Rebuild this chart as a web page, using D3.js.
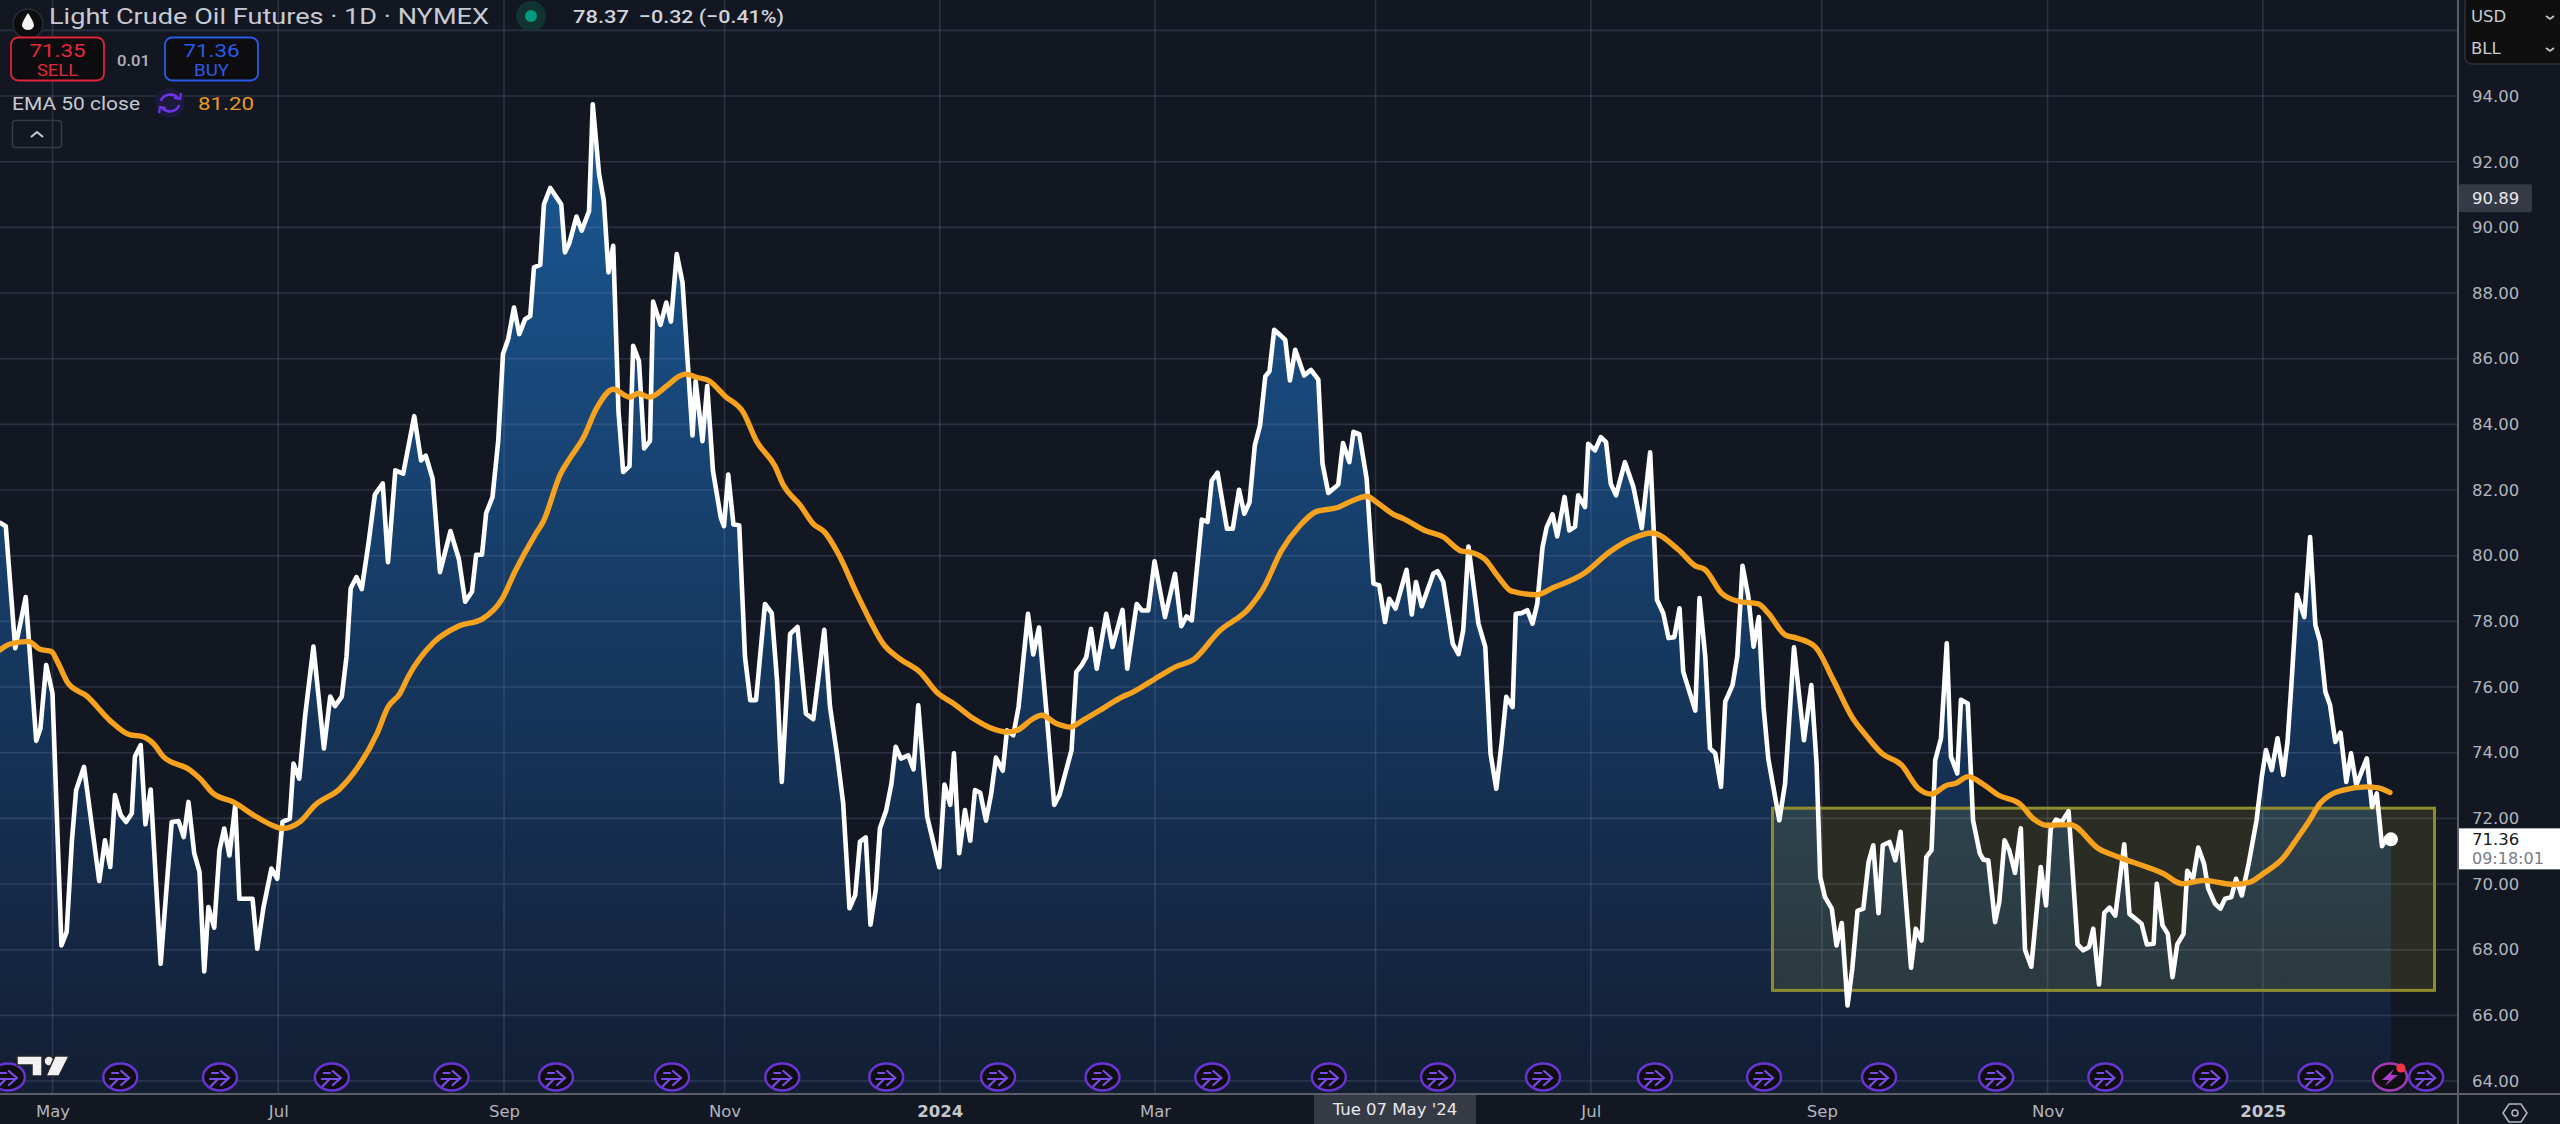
<!DOCTYPE html>
<html><head><meta charset="utf-8">
<script src="https://cdnjs.cloudflare.com/ajax/libs/d3/7.8.5/d3.min.js"></script>
<style>
html,body{margin:0;padding:0;background:#131722;overflow:hidden}
svg{display:block}
.ax text{font-family:"DejaVu Sans",sans-serif;font-size:16.5px;fill:#b2b5be}
.ax path,.ax line{display:none}
</style></head><body>
<svg id="c" width="2560" height="1124"></svg>
<script>
// ---- data: bar number (trading-session count from the left edge) and price ----
const closeBars = [0,1.1,2.9,4.9,6.9,7.7,8.8,10,11.7,12.7,13.7,14.5,16,18.9,20,21,21.9,23,24,25.1,25.7,26.8,27.7,28.7,30.6,32.7,34,35,35.9,37,38,38.9,39.7,40.8,41.8,42.7,43.7,44.8,45.6,48.1,49,50.2,51.7,52.8,53.8,55.2,55.9,57,58.1,59.7,61.7,62.9,63.8,65.1,66,66.8,67.9,68.9,70.2,71.4,72.9,73.9,75.3,76.8,78.9,80.2,81.1,82.4,83.8,85.8,87.4,88.6,89.9,90.7,91.8,92.6,93.8,94.9,95.8,96.8,97.9,98.9,100,101,101.7,102.9,103.6,104.8,106.9,107.6,108.4,109.8,110.8,112.2,112.9,114.1,115,115.9,116.8,117.8,118.7,119.9,120.6,121.7,122.7,123.8,124.4,125.8,126.9,127.8,128.9,130,131.9,132.5,133.8,134.7,135.8,137.3,137.9,138.7,139.7,140.8,141.9,142.9,144,145.7,147,148,148.9,150.5,151.9,153.5,154.9,157,158.1,159.4,160.6,161.8,162.9,163.8,164.9,165.8,166.8,167.6,168.8,169.8,170.6,171.6,173,174,174.9,176.6,178.9,179.9,181,181.7,182.7,183.8,184.8,185.7,186.7,187.8,188.8,189.7,191,191.8,193,194,195.8,196.8,197.9,199.4,200.8,201.8,204.1,205,206,206.9,207.8,208.9,210.7,211.9,213.8,214.7,216.5,217.5,218.7,219.9,221.9,223.8,225,226,227,228.9,230,230.8,231.9,233.7,234.8,236,237,238,239,240,241,241.8,242.7,244.8,245.7,246.7,248.4,249.7,251.1,251.9,253,254.9,255.8,257,257.8,258.9,260.3,261.6,262.7,263.8,264.6,265.8,267.9,268.9,269.7,270.8,273,273.8,274.9,276.7,277.8,278.7,279.7,281.6,282.9,283.9,285,286,286.9,288.1,288.7,289.8,290.9,291.9,292.8,293.8,294.6,295.7,296.6,298,298.9,300,300.6,301.9,302.5,303.8,304.9,305.9,306.8,307.8,309.5,311.1,312.7,314.3,315.6,316.8,317.8,318.9,319.9,320.6,322.9,323.7,324.8,325.7,326.7,327.8,328.6,330,330.9,331.9,333,334,335,335.9,336.8,338.9,340,341.7,343.6,345,346,346.7,347.6,348.9,349.8,350.8,351.9,352.8,353.8,354.9,355.9,356.8,357.8,358.6,359.9,361,362,364,364.9,366,366.9,367.9,368.6,369.7,370.8,371.6,372.8,373.5,374.8,375.8,377.1,377.8,378.7,380,380.8,381.8,382.7,383.8,384.9,385.7,386.9,388.7,389.7,390.6,391.6,392.7,394,395.7,396.8,397.9,398.7,399.8,400.8,401.8,402.9,404.6,405.6,407.9,408.9,410.2,410.8,411.9,412.9,413.8,414.7,415.9,416.6,417.7,418.7,419.8,420.6,421.9,422.9,423.8,425,425.9,427,428.3,429.8,430.8,431.6,432.7,433.8,434.9,435.7,436.5,437.5,438.9,440,441,441.9,442.9,443.8,444.8,445.8,446.9,447.8,448.8,450.8,451.8,452.7,453.7,454.6,455.4];
const closeValues = [81,80.9,77.18,78.74,74.36,74.74,76.67,75.8,68.13,68.54,71.33,72.86,73.57,70.09,71.33,70.52,72.71,72.1,71.89,72.15,73.88,74.23,71.82,72.88,67.57,71.89,71.92,71.43,72.5,70.93,70.37,67.34,69.3,68.67,71.03,71.69,70.87,72.4,69.55,69.55,68.03,69.3,70.47,70.16,71.89,71.99,73.67,73.21,75.1,77.23,74.13,75.71,75.42,75.71,76.93,79.01,79.35,78.98,80.39,81.86,82.2,79.8,82.6,82.5,84.25,82.9,83.05,82.35,79.5,80.75,79.9,78.6,78.9,80.03,80.03,81.3,81.78,83.5,86.14,86.6,87.56,86.75,87.2,87.3,88.78,88.86,90.7,91.2,90.7,89.24,89.5,90.33,89.9,90.5,93.75,91.63,90.82,88.63,89.44,84.4,82.55,82.73,86.39,85.93,83.27,83.5,87.74,87.03,87.71,87.13,89.19,88.32,83.66,85.32,83.49,85.17,82.58,81.15,80.9,82.47,80.95,80.93,76.91,75.6,75.6,78.53,78.25,76.2,73.11,77.62,77.83,75.19,75.02,77.74,75.39,73.98,72.46,69.26,69.67,71.29,71.42,68.76,69.82,71.7,72.25,73.06,74.18,73.82,73.92,73.49,75.44,72.05,70.51,73.03,72.41,73.98,70.94,72.25,71.32,72.86,72.78,71.93,72.76,73.85,73.45,74.68,74.53,75.39,78.23,76.99,77.81,75.09,72.41,72.71,74.08,76.46,76.66,76.91,77.77,76.56,78.23,77.22,78.35,76.56,78.53,78.33,78.33,79.83,78.13,79.45,77.85,78.15,78.03,81.1,81.03,82.29,82.53,80.82,80.82,82.01,81.28,81.63,83.36,83.97,85.46,85.62,86.88,86.58,85.34,86.27,85.49,85.66,85.36,82.8,81.91,82.17,83.43,82.85,83.77,83.7,82.35,79.15,79.1,77.98,78.69,78.39,79.57,78.21,79.2,78.46,79.45,79.53,79.2,77.32,77,77.73,80.28,77.93,77.22,73.97,72.9,74.27,75.7,75.39,78.23,78.25,78.34,77.93,78.54,80.26,80.87,81.26,80.59,81.79,80.77,80.89,81.84,81.48,83.41,83.21,83.61,83.46,82.19,81.84,82.85,82.1,80.84,83.15,78.66,78.25,77.49,77.52,78.4,76.47,75.28,78.71,76.93,74.13,73.98,72.96,75.55,76.06,76.93,79.69,78.76,77.23,78.13,75.4,73.82,71.94,73.06,77.21,74.38,76.06,73.67,70.21,69.6,69.25,68.13,68.81,66.3,67.42,69.18,69.25,70.67,71.18,69.11,71.18,71.28,70.72,71.59,67.45,68.64,68.28,70.82,71.03,73.77,74.44,77.33,73.88,73.37,75.61,75.5,71.94,70.93,70.74,70.72,68.84,69.45,71.33,71.03,70.34,71.7,68,67.48,70.52,69.35,71.69,71.96,71.89,72.22,68.16,67.98,68.08,68.64,66.94,69.12,69.28,69.04,71.21,69.09,68.79,68.16,68.18,70.01,68.74,68.48,67.16,68.16,68.48,70.4,70.16,71.11,70.62,69.86,69.4,69.25,69.55,69.6,70.16,69.65,70.62,71.94,73.27,74.08,73.47,74.44,73.32,74.33,76.22,78.81,78.13,80.57,77.89,77.39,75.86,75.45,74.33,74.61,73.11,73.98,73.01,73.83,72.35,72.76,71.15,71.43,71.36];
const emaBars = [0,1.9,5.4,7.6,9.8,11.1,13,16.5,21,24.8,27,29.2,31.1,36.2,38.1,40.6,44.4,48.9,51.8,53.8,57.1,60,64.8,67.3,71.8,73.9,76.2,77.7,82.6,87.4,91.8,95.7,98.1,102,103.5,106.7,108.6,111.1,113.7,116.8,119.9,121.6,123.7,127,128.9,130.5,133,134.9,138.1,141.6,144.1,147.6,149.2,152.4,154.9,157.1,159.7,163.2,165.7,168.2,171.4,175.2,178.7,181.6,185.4,188.6,191.8,193.7,196.8,198.4,201.3,203.8,206.3,210.5,214,215.2,219,224.1,227.3,232.1,238.1,240.6,244.1,247.6,250.8,254.6,257.8,260.3,262.2,265.4,267.3,271.4,274.9,278.4,280,282.9,285.4,287.9,292.7,295.9,301.6,306.7,311.1,314.6,319.7,322.9,324.8,327.9,331.1,334.9,336.8,340,342.2,345.7,349.2,352.7,355.6,358.4,362.2,365.4,367.9,370.8,372.4,374.9,377.8,380.6,384.8,387.2,389.8,394.3,399.7,403.2,410.2,412,415.6,419.7,425.4,428.6,431.1,434.9,437.5,439.7,441.9,444.4,446.3,450.8,453,455.2];
const emaValues = [77.13,77.31,77.39,77.15,77.08,76.72,76.11,75.73,74.97,74.54,74.5,74.28,73.88,73.47,73.21,72.76,72.5,72.04,71.79,71.69,71.89,72.4,72.91,73.37,74.58,75.39,75.81,76.3,77.36,77.86,78.07,78.7,79.52,80.66,81.05,82.47,82.98,83.59,84.51,85.07,84.83,84.94,84.83,85.17,85.42,85.53,85.42,85.34,84.86,84.36,83.49,82.73,82.15,81.54,80.97,80.71,80.05,78.84,78.03,77.32,76.86,76.46,75.8,75.5,75.04,74.76,74.63,74.68,75.04,75.14,74.88,74.78,74.99,75.39,75.72,75.8,76.15,76.63,76.83,77.68,78.44,79,80.16,80.92,81.35,81.46,81.69,81.81,81.63,81.26,81.13,80.77,80.57,80.14,80.11,79.88,79.35,78.92,78.81,79.03,79.45,80.13,80.54,80.69,80.18,79.69,79.57,78.86,78.61,78.53,78.25,77.59,77.49,77.23,76.21,75.1,74.49,73.98,73.62,72.91,72.74,73.01,73.06,73.27,73.03,72.71,72.43,72,71.79,71.81,71.08,70.84,70.44,70.32,70.01,70.11,69.99,70.06,70.32,70.8,71.38,71.89,72.45,72.76,72.86,72.96,72.93,72.79];
const timeTickBars = [10,53,96,138,179,220,262,303,347,390,431];
const timeTickLabels = ["May","Jul","Sep","Nov","2024","Mar","","Jul","Sep","Nov","2025"];
const priceTicks = [64,66,68,70,72,74,76,78,80,82,84,86,88,90,92,94];
const gridPrices = [64,66,68,70,72,74,76,78,80,82,84,86,88,90,92,94,96];
const eventBars = [1.5,22.9,41.9,63.2,86,105.9,128,149,168.8,190.1,210,230.9,253.1,273.9,293.9,315.2,336,357.9,380.2,401,421,441,462.1];
const lightningBar = [455.2];
const rangeBox = {barFrom:337.6, barTo:463.7, priceTop:72.31, priceBottom:66.76};
const cursorBar = 265.7, cursorPrice = 90.89, cursorLabel = "Tue 07 May '24";
const lastPrice = 71.36, lastCountdown = "09:18:01";

const W=2560,H=1124,AX=2458,BY=1094;
const x=d3.scaleLinear().domain([0,487.6]).range([0,W]);
const y=d3.scaleLinear().domain([64,96]).range([1081,30.4]);
const svg=d3.select("#c");
const defs=svg.append("defs");
const g=defs.append("linearGradient").attr("id","ag").attr("gradientUnits","userSpaceOnUse")
  .attr("x1",0).attr("x2",0).attr("y1",y(93.75)).attr("y2",BY);
g.append("stop").attr("offset",0).attr("stop-color","#1a5996");
g.append("stop").attr("offset",.5).attr("stop-color","#163b65");
g.append("stop").attr("offset",1).attr("stop-color","#131e33");

svg.append("rect").attr("width",W).attr("height",H).attr("fill","#131722");

const closeData=closeBars.map((b,i)=>[b,closeValues[i]]);
const emaData=emaBars.map((b,i)=>[b,emaValues[i]]);
const area=d3.area().x(d=>x(d[0])).y0(BY).y1(d=>y(d[1]));
const line=d3.line().x(d=>x(d[0])).y(d=>y(d[1]));
const smooth=d3.line().curve(d3.curveMonotoneX).x(d=>x(d[0])).y(d=>y(d[1]));
svg.append("path").attr("d",area(closeData)).attr("fill","url(#ag)");

// grid
const grid=svg.append("g").attr("stroke","rgba(125,135,175,.24)").attr("stroke-width",1.6);
grid.selectAll(".h").data(gridPrices).join("line").attr("x1",0).attr("x2",AX).attr("y1",d=>y(d)).attr("y2",d=>y(d));
grid.selectAll(".v").data(timeTickBars).join("line").attr("y1",0).attr("y2",BY).attr("x1",d=>x(d)).attr("x2",d=>x(d));

// rectangle
svg.append("rect").attr("x",x(rangeBox.barFrom)).attr("width",x(rangeBox.barTo)-x(rangeBox.barFrom))
  .attr("y",y(rangeBox.priceTop)).attr("height",y(rangeBox.priceBottom)-y(rangeBox.priceTop))
  .attr("fill","rgba(255,236,70,.105)").attr("stroke","#8f8c2f").attr("stroke-width",3);

// event icons
const ev=svg.append("g").selectAll("g").data(eventBars).join("g").attr("transform",d=>`translate(${x(d)},1077)`);
ev.append("ellipse").attr("rx",17).attr("ry",13.5).attr("fill","#0f0f12").attr("stroke","#6934d6").attr("stroke-width",2.4);
ev.append("path").attr("d","M-10 2 H8 M1 -6 L9 1 L1 8 M-9 9 L-2 2 M-8 -4 L-2 -4").attr("fill","none").attr("stroke","#7a4ce8").attr("stroke-width",2.2).attr("stroke-linecap","round");
const lt=svg.append("g").selectAll("g").data(lightningBar).join("g").attr("transform",d=>`translate(${x(d)},1077)`);
lt.append("ellipse").attr("rx",17).attr("ry",13.5).attr("fill","#0f0f12").attr("stroke","#a03bb8").attr("stroke-width",2.4);
lt.append("path").attr("d","M4 -8 L-8 3 L-1 3 L-5 9 L8 -2 L1 -2 Z").attr("fill","#a83fc9");
lt.append("circle").attr("cx",11).attr("cy",-9).attr("r",4.5).attr("fill","#f23645");

// lines
svg.append("path").attr("d",line(closeData)).attr("fill","none").attr("stroke","#fff").attr("stroke-width",4.6).attr("stroke-linejoin","round").attr("stroke-linecap","round");
svg.append("circle").attr("cx",x(closeBars[closeBars.length-1])).attr("cy",y(lastPrice)).attr("r",7).attr("fill","#fff");
svg.append("path").attr("d",smooth(emaData)).attr("fill","none").attr("stroke","#f7a21e").attr("stroke-width",5.4).attr("stroke-linejoin","round").attr("stroke-linecap","round");

// axes frame
svg.append("line").attr("x1",AX).attr("x2",AX).attr("y1",0).attr("y2",H).attr("stroke","#5b5e68").attr("stroke-width",2);
svg.append("line").attr("x1",0).attr("x2",W).attr("y1",BY).attr("y2",BY).attr("stroke","#5b5e68").attr("stroke-width",2);

// price axis
const ya=svg.append("g").attr("class","ax").attr("transform",`translate(${AX},0)`)
  .call(d3.axisRight(y).tickValues(priceTicks).tickFormat(d3.format(".2f")).tickSize(0).tickPadding(14));
// time axis
const xa=svg.append("g").attr("class","ax").attr("transform",`translate(0,${BY})`)
  .call(d3.axisBottom(x).tickValues(timeTickBars).tickFormat((d,i)=>timeTickLabels[i]).tickSize(0).tickPadding(11));
xa.selectAll("text").filter((d,i)=>/^\d{4}$/.test(timeTickLabels[i])).style("font-weight","bold").style("fill","#c4c7ce");
xa.select(".domain").remove();ya.select(".domain").remove();

// cursor tags
const tagF='"DejaVu Sans",sans-serif';
svg.append("rect").attr("x",x(cursorBar)-81).attr("y",BY+1).attr("width",162).attr("height",H-BY-1).attr("fill","#363a45");
svg.append("text").attr("x",x(cursorBar)).attr("y",1115).attr("text-anchor","middle").attr("font-family",tagF).attr("font-size",16.5).attr("fill","#e8e9ec").text(cursorLabel);
svg.append("rect").attr("x",AX+1).attr("y",y(cursorPrice)-14).attr("width",73).attr("height",28).attr("rx",2).attr("fill","#363a45");
svg.append("text").attr("x",AX+14).attr("y",y(cursorPrice)+6).attr("font-family",tagF).attr("font-size",16.5).attr("fill","#e8e9ec").text(d3.format(".2f")(cursorPrice));
svg.append("rect").attr("x",AX+1).attr("y",y(lastPrice)-11).attr("width",W-AX).attr("height",41).attr("fill","#fff");
svg.append("text").attr("x",AX+14).attr("y",y(lastPrice)+6).attr("font-family",tagF).attr("font-size",16.5).attr("fill","#131722").text(d3.format(".2f")(lastPrice));
svg.append("text").attr("x",AX+14).attr("y",y(lastPrice)+25).attr("font-family",tagF).attr("font-size",16).attr("fill","#787b86").text(lastCountdown);

// currency box
svg.append("rect").attr("x",2465).attr("y",-4).attr("width",110).attr("height",68).attr("rx",7).attr("fill","#0f0f0f").attr("stroke","#2f323c").attr("stroke-width",1.5);
[["USD",22,17],["BLL",54,49]].forEach(([t,b,c])=>{
  svg.append("text").attr("x",2471).attr("y",b).attr("font-family",tagF).attr("font-size",16.5).attr("fill","#c8cbd3").text(t);
  svg.append("path").attr("d",`M2546 ${c-1} L2550 ${c+2} L2554 ${c-1}`).attr("fill","none").attr("stroke","#c8cbd3").attr("stroke-width",1.6);
});

// settings hexagon
svg.append("path").attr("d","M2503 1113 L2509 1104 H2521 L2527 1113 L2521 1122 H2509 Z").attr("fill","none").attr("stroke","#b2b5be").attr("stroke-width",1.6);
svg.append("circle").attr("cx",2515).attr("cy",1113).attr("r",3).attr("fill","none").attr("stroke","#b2b5be").attr("stroke-width",1.6);

// header legend
const F='Roboto,sans-serif';
function T(t,xx,yy,s,c,o={}){const e=svg.append("text").attr("x",xx).attr("y",yy).attr("font-family",o.f||F).attr("font-size",s).attr("fill",c).attr("font-weight",o.w||400).attr("text-anchor",o.a||"start").text(t);
  if(o.l)e.attr("textLength",o.l).attr("lengthAdjust","spacingAndGlyphs");return e;}
svg.append("circle").attr("cx",28).attr("cy",24).attr("r",15).attr("fill","#0d0d0f").attr("stroke","#2a2d36").attr("stroke-width",1.5);
svg.append("path").attr("d","M28 13 C31 18 34 22 34 26 A6.5 6.5 0 0 1 22 26 C22 22 25 18 28 13 Z").attr("fill","#f2f2f2");
T("Light Crude Oil Futures · 1D · NYMEX",49,24,22,"#c7cad2",{l:440});
svg.append("circle").attr("cx",531).attr("cy",16).attr("r",15).attr("fill","#123431");
svg.append("circle").attr("cx",531).attr("cy",16).attr("r",6).attr("fill","#089981");
T("78.37",573,23,19,"#d1d4dc",{l:56,w:500});
T("−0.32 (−0.41%)",639,23,19,"#d1d4dc",{l:145,w:500});

// trade boxes
[[11,"71.35","SELL","#e0243c","#e6283c"],[165,"71.36","BUY","#2a5be8","#2a5be8"]].forEach(([bx,p,l,s,c])=>{
  svg.append("rect").attr("x",bx).attr("y",37.5).attr("width",93).attr("height",43).attr("rx",7).attr("fill","#0d0d0f").attr("stroke",s).attr("stroke-width",1.8);
  T(p,bx+46.5,57,18,c,{a:"middle",l:56});
  T(l,bx+46.5,76,16,c,{a:"middle",l:l==="SELL"?41:35});
});
T("0.01",117,66,15,"#b2b5be",{l:33,w:500});

// EMA legend
T("EMA 50 close",12,110,19,"#c7cad2",{l:128});
svg.append("circle").attr("cx",170).attr("cy",103).attr("r",15).attr("fill","#1c1a3a");
svg.append("path").attr("d","M161 101 A9.5 8 0 0 1 178 98 M179 105 A9.5 8 0 0 1 162 108").attr("fill","none").attr("stroke","#6d33e8").attr("stroke-width",2.6);
svg.append("path").attr("d","M174 98 L180 99 L181 93 M166 108 L160 107 L159 113").attr("fill","none").attr("stroke","#6d33e8").attr("stroke-width",2.2);
T("81.20",198,110,19,"#e79a1e",{l:56});

// collapse button
svg.append("rect").attr("x",12.5).attr("y",120.5).attr("width",49).attr("height",27).attr("rx",3).attr("fill","none").attr("stroke","#363a45").attr("stroke-width",1.5);
svg.append("path").attr("d","M31 137 L37 132 L43 137").attr("fill","none").attr("stroke","#c7cad2").attr("stroke-width",2);

// tradingview logo
const lg=svg.append("g").attr("fill","#f2f2f2").attr("stroke","#26262a").attr("stroke-width",1.5);
lg.append("path").attr("d","M17 1056 H42 V1076 H32 V1065 H17 Z");
lg.append("circle").attr("cx",49).attr("cy",1061).attr("r",5);
lg.append("path").attr("d","M55 1056 H69 L59 1076 H46 Z");
</script>
</body></html>
